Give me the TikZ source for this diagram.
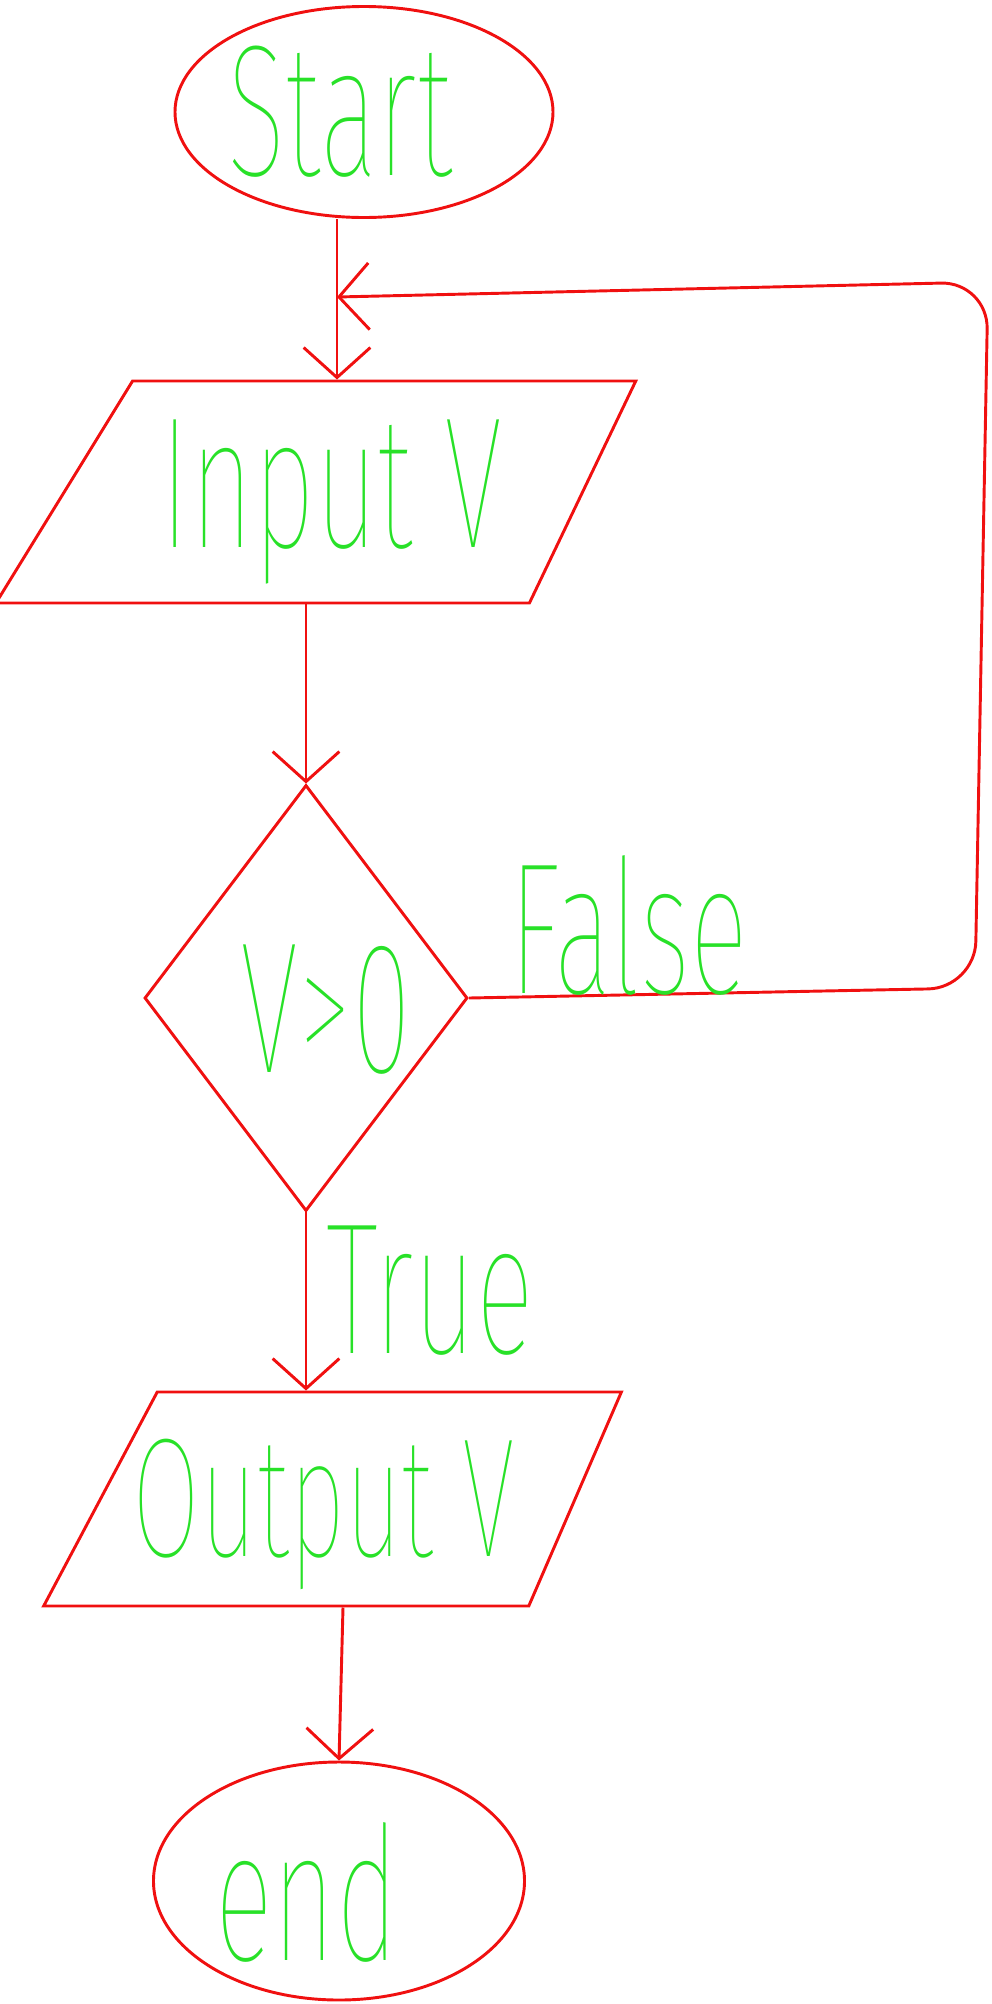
\documentclass[tikz,border=0pt]{standalone}
\usepackage{fontspec}
\usetikzlibrary{shapes.geometric,arrows.meta}
\definecolor{inkred}{RGB}{240,16,16}
\definecolor{inkgreen}{RGB}{40,225,40}
\IfFontExistsTF{Fira Sans Thin}
  {\newfontfamily\hand{Fira Sans Thin}[FakeStretch=0.58]}
  {\newfontfamily\hand{Fira Sans}[FakeStretch=0.58]}
\begin{document}
\begin{tikzpicture}[x=0.03cm, y=-0.03cm, line width=2.5pt, inkred,
    >={Straight Barb[length=0.9cm,width=2cm]},
    ink/.style={text=inkgreen, font=\hand\fontsize{160}{160}\selectfont, inner sep=0pt},
    terminal/.style={draw=inkred, ellipse},
    io/.style={draw=inkred, trapezium, trapezium stretches=true,
               trapezium left angle=71, trapezium right angle=105},
    decision/.style={draw=inkred, diamond}]
    \useasboundingbox (0,0) rectangle (992,2004);

    % Shapes
    \node[terminal, minimum width=11.34cm, minimum height=6.33cm] (start) at (364,112) {};
    \node[io, minimum width=19.2cm, minimum height=6.66cm] (input) at (331,492) {};
    \node[decision, minimum width=9.69cm, minimum height=12.78cm] (test) at (306,998) {};
    \node[io, trapezium left angle=73, trapezium right angle=104,
          minimum width=17.34cm, minimum height=6.42cm] (output) at (343,1499) {};
    \node[terminal, minimum width=11.13cm, minimum height=7.14cm] (stop) at (339,1881) {};

    % Texts
    \node[ink] (start-txt) at (340,112) {Start};
    \node[ink] (input-txt) at (332,502) {Input V};
    \node[ink] (test-txt) at (326,1010) {V>0};
    \node[ink, font=\hand\fontsize{145}{145}\selectfont] (output-txt) at (324,1514) {Output V};
    \node[ink] (stop-txt) at (307,1892) {end};

    % Flow
    \coordinate (merge) at (337,297);
    \draw[->] (start.south -| merge) -- (input.north -| merge);
    \draw[->] (input.south -| test.north) -- (test.north);
    \draw[->] (test.south) -- (test.south |- output.north);
    \draw[->] (output.south) -- (stop.north);

    % Loop back when false
    \coordinate (loop-br) at (975,988);
    \coordinate (loop-tr) at (988,282);
    \draw[->, rounded corners=40pt] (test.east) -- (loop-br) -- (loop-tr) -- (merge);

    % Branch labels
    \node[ink] (no) at (629,925) {False};
    \node[ink] (yes) at (430,1291) {True};
\end{tikzpicture}
\end{document}
